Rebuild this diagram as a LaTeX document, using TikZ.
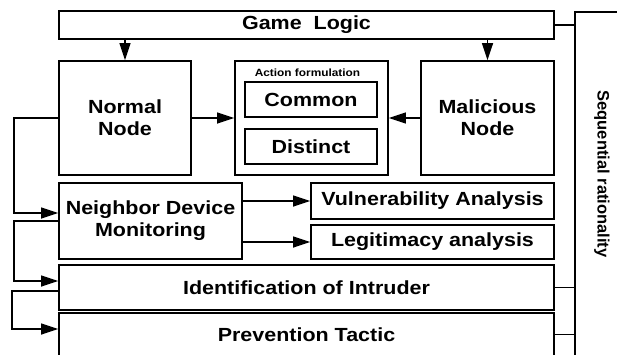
\documentclass[tikz,border=0pt]{standalone}
\usepackage{fontspec}
\newfontfamily\boxfont{Liberation Sans}[FakeStretch=1.13]
\newfontfamily\sidefont{Liberation Sans}
\usetikzlibrary{arrows.meta}
\tikzset{every node/.append style={font=\boxfont\bfseries\fontsize{19}{22}\selectfont, align=center}}
\tikzset{blk/.style={draw, line width=1.7pt, inner sep=0pt}}

\begin{document}
\begin{tikzpicture}[x=1pt, y=-1pt, line width=1.4pt, >={Triangle[length=17pt,width=11pt]}]
    \useasboundingbox (0,0) rectangle (617,354);
    \clip (0,0) rectangle (617,354);
    % top row
    \node[blk, minimum width=495, minimum height=28] (gl) at (306.5,25) {Game\ \ Logic};
    \node[blk, minimum width=132, minimum height=114] (nn) at (125,118) {Normal\\Node};
    \node[blk, minimum width=153, minimum height=114] (af) at (311.5,118) {};
    \node[font=\boxfont\bfseries\fontsize{10.5}{12}\selectfont] (aft) at (307.5,73) {Action formulation};
    \node[blk, minimum width=132, minimum height=35] (cm) at (311,99.5) {Common};
    \node[blk, minimum width=132, minimum height=35] (ds) at (311,146.5) {Distinct};
    \node[blk, minimum width=133, minimum height=114] (mn) at (487.5,118) {Malicious\\Node};
    % monitoring and analysis
    \node[blk, minimum width=183, minimum height=76] (ndm) at (150.5,221) {Neighbor Device\\Monitoring};
    \node[blk, minimum width=243, minimum height=36] (va) at (432.5,201) {Vulnerability Analysis};
    \node[blk, minimum width=243, minimum height=34] (la) at (432.5,242) {Legitimacy analysis};
    \node[blk, minimum width=495, minimum height=45] (ii) at (306.5,287.5) {Identification of Intruder};
    \node[blk, minimum width=495, minimum height=43] (pt) at (306.5,334.5) {Prevention Tactic};
    % side box
    \node[blk, minimum width=55, minimum height=358] (sr) at (602.5,191) {};
    \node[font=\sidefont\bfseries\fontsize{16.5}{20}\selectfont, rotate=-90] (srt) at (602,174) {Sequential rationality};

    \draw[->] (gl.south -| nn.north) -- (nn.north);
    \draw[->] (gl.south -| mn.north) -- (mn.north);
    \draw[->] (nn) -- (af);
    \draw[->] (mn) -- (af);
    \draw[->] (nn.west) -- ++(-44,0) |- ([yshift=8pt]ndm.west);
    \draw[->] (ndm.east |- va) -- (va.west);
    \draw[->] (ndm.east |- la) -- (la.west);
    \draw[->] (ndm.west) -- ++(-44,0) |- ([yshift=6.5pt]ii.west);
    \draw[->] ([yshift=-3.5pt]ii.west) -- ++(-46,0) |- ([yshift=5.5pt]pt.west);
    \draw (gl.east) -- (gl.east -| sr.west);
    \draw (ii.east) -- (ii.east -| sr.west);
    \draw (pt.east) -- (pt.east -| sr.west);
\end{tikzpicture}
\end{document}
